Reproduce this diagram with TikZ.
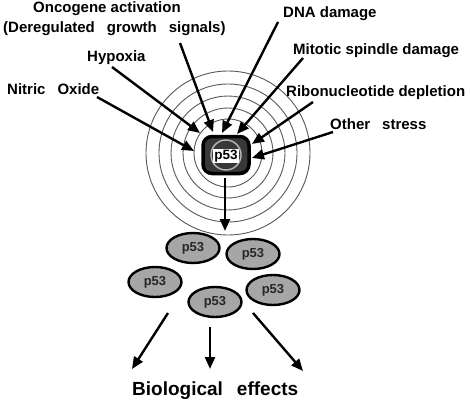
\documentclass[tikz,border=0pt]{standalone}
\usepackage{fontspec}
\setmainfont{Liberation Sans}
\usetikzlibrary{arrows.meta,shapes.geometric}
\begin{document}
\begin{tikzpicture}[x=1pt,y=-1pt,
  lbl/.style={font=\bfseries\fontsize{15}{15}\selectfont, inner sep=0pt, anchor=base west},
  arr/.style={line width=2.4pt, -{Triangle[length=12pt,width=10pt]}},
  ringline/.style={draw=gray!70!black, line width=0.9pt},
  blob/.style={ellipse, draw=black, line width=2.4pt, fill=gray!70, minimum width=53pt, minimum height=30pt, inner sep=0pt, font=\bfseries\fontsize{13}{13}\selectfont, text=black!85}
]
\useasboundingbox (0,0) rectangle (470,401);
\fill[white] (0,0) rectangle (470,401);

% concentric circles
\coordinate (c) at (228,153);
\foreach \r in {82,69,57,45,34} \draw[ringline] (c) circle (\r);

% central p53
\node[draw=black, fill=black!78, line width=3.5pt, rounded corners=9pt, minimum width=46pt, minimum height=37pt] (p53) at (226,155) {};
\draw[gray!55, line width=1.4pt] (p53.center) circle (15);
\node[fill=white, inner sep=1.2pt, font=\bfseries\fontsize{13.5}{13.5}\selectfont] (p53lbl) at (226,156) {p53};

% labels
\node[lbl] (onc) at (33,13) {Oncogene activation};
\node[lbl] (dereg) at (3,33) {(Deregulated\hspace{12pt}growth\hspace{12pt}signals)};
\node[lbl] (dna) at (283,18) {DNA damage};
\node[lbl] (hyp) at (87,62) {Hypoxia};
\node[lbl] (mit) at (293,55) {Mitotic spindle damage};
\node[lbl] (nit) at (7,94) {Nitric\hspace{12pt}Oxide};
\node[lbl] (rib) at (286,96) {Ribonucleotide\hspace{4pt}depletion};
\node[lbl] (oth) at (330,129) {Other\hspace{12pt}stress};

% arrow coordinates
\coordinate (s1) at (180,43);  \coordinate (t1) at (213,132);
\coordinate (s2) at (278,22);  \coordinate (t2) at (222,133);
\coordinate (s3) at (112,67);  \coordinate (t3) at (200,133);
\coordinate (s4) at (303,58);  \coordinate (t4) at (237,134);
\coordinate (s5) at (97,97);   \coordinate (t5) at (194,151);
\coordinate (s6) at (313,102); \coordinate (t6) at (252,144);
\coordinate (s7) at (333,132); \coordinate (t7) at (252,158);
\coordinate (s8) at (225,178); \coordinate (t8) at (225,231);

\foreach \i in {1,...,8} \draw[arr] (s\i) -- (t\i);

% p53 ellipses
\node[blob] (e1) at (193,248) {p53};
\node[blob] (e2) at (253,254) {p53};
\node[blob] (e3) at (155,282) {p53};
\node[blob] (e4) at (215,302) {p53};
\node[blob] (e5) at (273,290) {p53};

% bottom arrows
\coordinate (b1) at (168,313); \coordinate (u1) at (132,369);
\coordinate (b2) at (210,327); \coordinate (u2) at (210,369);
\coordinate (b3) at (253,313); \coordinate (u3) at (303,371);
\foreach \i in {1,2,3} \draw[arr] (b\i) -- (u\i);

\node[font=\bfseries\fontsize{19}{19}\selectfont, inner sep=0pt, anchor=base west] (bio) at (132,395) {Biological\hspace{14pt}effects};
\end{tikzpicture}
\end{document}
